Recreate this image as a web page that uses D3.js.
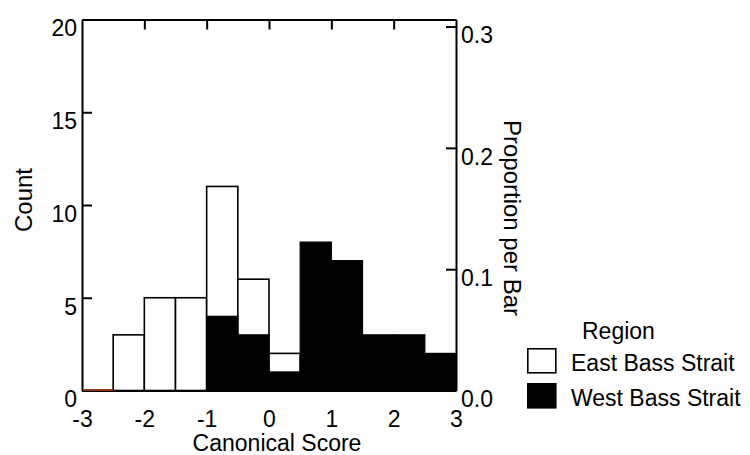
<!DOCTYPE html>
<html>
<head>
<meta charset="utf-8">
<script src="https://cdn.jsdelivr.net/npm/d3@7"></script>
<style>
  body { margin: 0; background: #fff; }
  text { font-family: "Liberation Sans", Arial, sans-serif; fill: #000; }
</style>
</head>
<body>
<svg id="chart" width="750" height="455"></svg>
<script>
// histogram bins (left edges) and counts per region
const binStarts = [-3, -2.5, -2, -1.5, -1, -0.5, 0, 0.5, 1, 1.5, 2, 2.5];
const binWidth = 0.5;
const eastCounts = [0, 3, 5, 5, 11, 6, 2, 0, 0, 0, 0, 0];
const westCounts = [0, 0, 0, 0, 4, 3, 1, 8, 7, 3, 3, 2];
const regions = ["East Bass Strait", "West Bass Strait"];
const regionFill = ["#fff", "#000"];

const xTicks = [-3, -2, -1, 0, 1, 2, 3];
const countTicks = [0, 5, 10, 15, 20];
const propTicks = [0.0, 0.1, 0.2, 0.3];
const totalN = 65.4;

const svg = d3.select("#chart");

const plot = { left: 82, right: 456, top: 19.5, bottom: 390.5 };

const x = d3.scaleLinear().domain([-3, 3]).range([plot.left, plot.right]);
const y = d3.scaleLinear().domain([0, 20]).range([plot.bottom, plot.top]);
const yProp = d3.scaleLinear().domain([0, 20 / totalN]).range([plot.bottom, plot.top]);

const bins = binStarts.map((b, i) => ({ x0: b, x1: b + binWidth, east: eastCounts[i], west: westCounts[i] }));

// East bars (white, behind)
svg.append("g").selectAll("rect")
  .data(bins.filter(d => d.east > 0))
  .enter().append("rect")
  .attr("x", d => x(d.x0))
  .attr("width", d => x(d.x1) - x(d.x0))
  .attr("y", d => y(d.east))
  .attr("height", d => y(0) - y(d.east))
  .style("fill", regionFill[0])
  .style("stroke", "#000")
  .style("stroke-width", 1.6);

// West bars (black, in front)
svg.append("g").selectAll("rect")
  .data(bins.filter(d => d.west > 0))
  .enter().append("rect")
  .attr("x", d => x(d.x0))
  .attr("width", d => x(d.x1) - x(d.x0))
  .attr("y", d => y(d.west))
  .attr("height", d => y(0) - y(d.west))
  .style("fill", regionFill[1])
  .style("stroke", "#000")
  .style("stroke-width", 1.2);

function styleAxis(g) {
  g.select(".domain").style("stroke", "#000").style("stroke-width", 2);
  g.selectAll(".tick line").style("stroke", "#000").style("stroke-width", 2);
  g.selectAll(".tick text").style("font-size", "23px").style("fill", "#000");
}

// left count axis
svg.append("g")
  .attr("transform", `translate(${plot.left},0)`)
  .call(d3.axisLeft(y).tickValues(countTicks).tickSizeInner(-10).tickSizeOuter(0).tickPadding(5))
  .call(styleAxis)
  .call(g => g.selectAll(".tick text").attr("dy", "0.71em"));

// right proportion axis
svg.append("g")
  .attr("transform", `translate(${plot.right},0)`)
  .call(d3.axisRight(yProp).tickValues(propTicks).tickSizeInner(-10).tickSizeOuter(0).tickPadding(5)
    .tickFormat(d3.format(".1f")))
  .call(styleAxis)
  .call(g => g.selectAll(".tick text").attr("dy", "0.71em"));

// top frame with inner ticks
svg.append("g")
  .attr("transform", `translate(0,${plot.top})`)
  .call(d3.axisTop(x).tickValues(xTicks.slice(1, -1)).tickSizeInner(-10).tickSizeOuter(0).tickFormat(""))
  .call(styleAxis);

// bottom axis, labels only (plain hyphen minus like the original)
svg.append("g")
  .attr("transform", `translate(0,${plot.bottom})`)
  .call(d3.axisBottom(x).tickValues(xTicks).tickSize(0).tickPadding(20).tickFormat(d => String(d)))
  .call(styleAxis);

// empty bins get a thin baseline mark
svg.append("g").selectAll("line")
  .data(bins.filter(d => d.east === 0 && d.west === 0))
  .enter().append("line")
  .attr("x1", d => x(d.x0) + 1)
  .attr("x2", d => x(d.x1))
  .attr("y1", y(0) - 0.5)
  .attr("y2", y(0) - 0.5)
  .style("stroke", "#8a3418")
  .style("stroke-width", 2);

// axis titles
svg.append("text")
  .attr("transform", "translate(32,200) rotate(-90)")
  .attr("text-anchor", "middle")
  .style("font-size", "24px")
  .text("Count");

svg.append("text")
  .attr("x", 277)
  .attr("y", 451)
  .attr("text-anchor", "middle")
  .style("font-size", "23px")
  .text("Canonical Score");

svg.append("text")
  .attr("transform", "translate(504,218) rotate(90)")
  .attr("text-anchor", "middle")
  .style("font-size", "24px")
  .text("Proportion per Bar");

// legend
const legend = svg.append("g").attr("transform", "translate(527,0)");
legend.append("text")
  .attr("x", 55)
  .attr("y", 339)
  .style("font-size", "23px")
  .text("Region");

const items = legend.selectAll(".item")
  .data(regions)
  .enter().append("g")
  .attr("class", "item")
  .attr("transform", (d, i) => `translate(0,${348 + i * 35})`);

items.append("rect")
  .attr("x", 0.8)
  .attr("y", 0.8)
  .attr("width", 28)
  .attr("height", 24)
  .style("fill", (d, i) => regionFill[i])
  .style("stroke", "#000")
  .style("stroke-width", 1.6);

items.append("text")
  .attr("x", 44)
  .attr("y", 23)
  .style("font-size", "23px")
  .text(d => d);
</script>
</body>
</html>
